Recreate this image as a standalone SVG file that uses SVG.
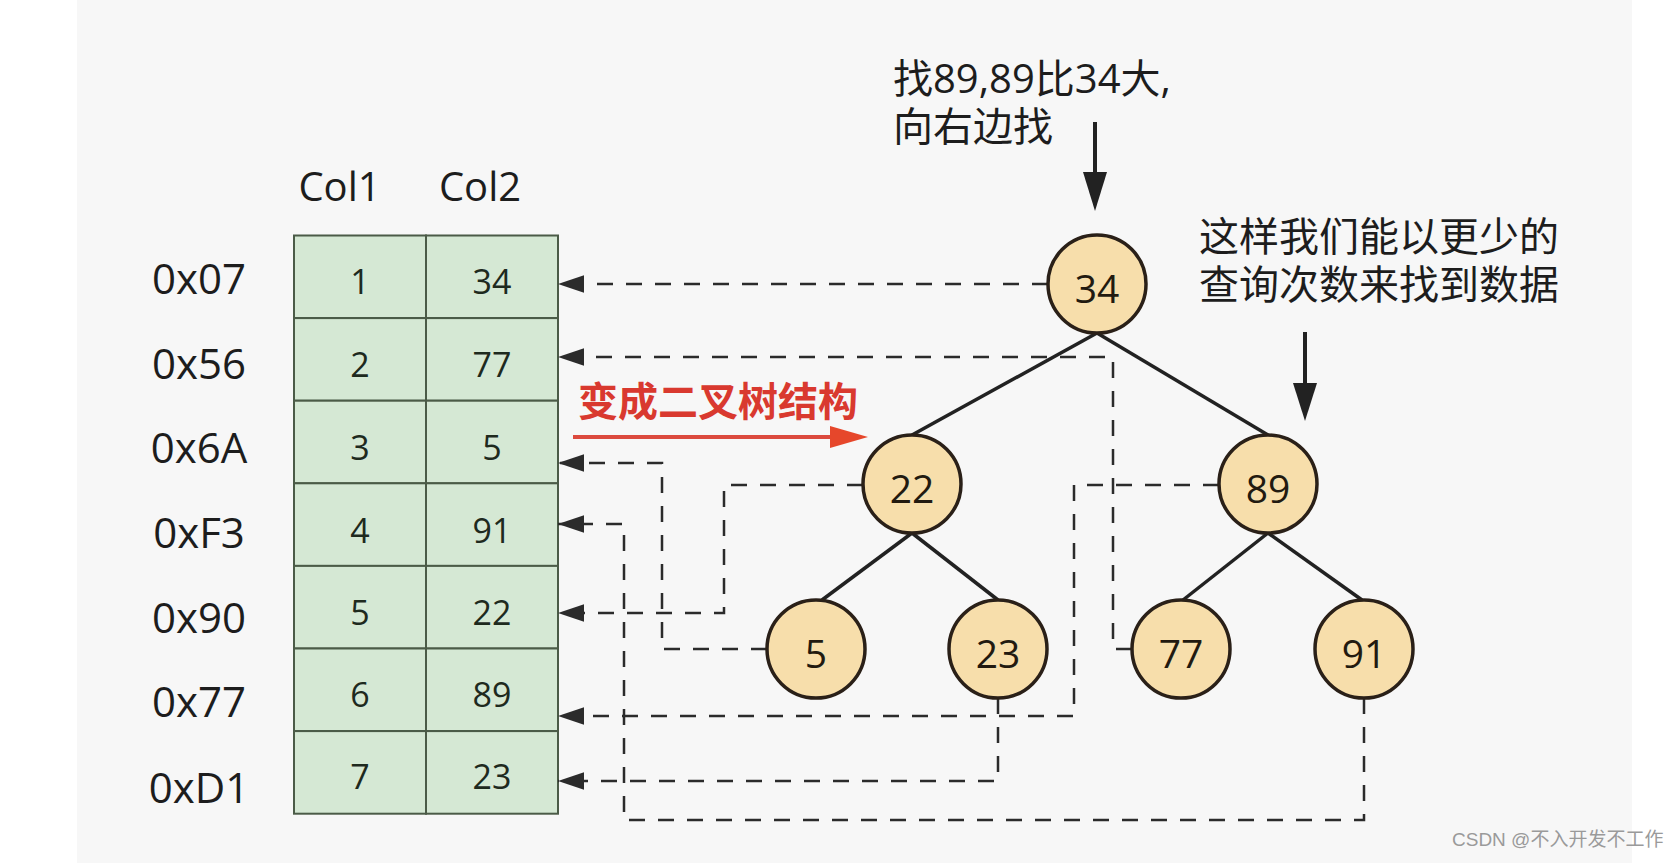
<svg xmlns="http://www.w3.org/2000/svg" width="1678" height="863" viewBox="0 0 1678 863">
<style>
.lat{font-family:"Open Sans","Noto Sans CJK SC","Liberation Sans",sans-serif;fill:#1d1d1d}
.cjk{font-family:"Open Sans","Noto Sans CJK SC",sans-serif;fill:#1d1d1d;font-size:40px}
.hdr{font-size:40px;text-anchor:middle}
.lbl{font-size:42px;text-anchor:middle}
.cell rect{fill:#d5e8d4;stroke:#4b5b47;stroke-width:2}
.cell text{font-size:34px;text-anchor:middle;fill:#1e2a1e}
.node circle{fill:#f7deab;stroke:#2a2018;stroke-width:3.5}
.node text{font-size:39px;text-anchor:middle;fill:#221a10}
.edge{stroke:#222;stroke-width:3.5;fill:none}
.dash{stroke:#2b2b2b;stroke-width:2.5;fill:none;stroke-dasharray:16 13;marker-end:url(#al)}
.solid{stroke:#222;stroke-width:4;fill:none}
</style>
<defs>
<marker id="al" markerUnits="userSpaceOnUse" markerWidth="26" markerHeight="18" viewBox="0 0 24 16" refX="24" refY="8" orient="auto">
<path d="M0,0 L24,8 L0,16 Z" fill="#2b2b2b"/>
</marker>
</defs>
<rect x="0" y="0" width="1678" height="863" fill="#ffffff"/>
<rect x="77" y="0" width="1555" height="863" fill="#f7f7f7"/>

<g id="headers">
<text class="lat hdr" x="339.5" y="201">Col1</text>
<text class="lat hdr" x="480" y="201">Col2</text>
</g>

<g id="row-labels">
<text class="lat lbl" x="199" y="294">0x07</text>
<text class="lat lbl" x="199" y="379">0x56</text>
<text class="lat lbl" x="199" y="463">0x6A</text>
<text class="lat lbl" x="199" y="548">0xF3</text>
<text class="lat lbl" x="199" y="633">0x90</text>
<text class="lat lbl" x="199" y="717">0x77</text>
<text class="lat lbl" x="199" y="803">0xD1</text>
</g>

<g id="row1" class="cell"><rect x="294" y="235.5" width="132" height="82.6"/><rect x="426" y="235.5" width="132" height="82.6"/><text class="lat" x="360" y="294">1</text><text class="lat" x="492" y="294">34</text></g>
<g id="row2" class="cell"><rect x="294" y="318.1" width="132" height="82.6"/><rect x="426" y="318.1" width="132" height="82.6"/><text class="lat" x="360" y="377">2</text><text class="lat" x="492" y="377">77</text></g>
<g id="row3" class="cell"><rect x="294" y="400.7" width="132" height="82.6"/><rect x="426" y="400.7" width="132" height="82.6"/><text class="lat" x="360" y="460">3</text><text class="lat" x="492" y="460">5</text></g>
<g id="row4" class="cell"><rect x="294" y="483.3" width="132" height="82.6"/><rect x="426" y="483.3" width="132" height="82.6"/><text class="lat" x="360" y="543">4</text><text class="lat" x="492" y="543">91</text></g>
<g id="row5" class="cell"><rect x="294" y="565.9" width="132" height="82.6"/><rect x="426" y="565.9" width="132" height="82.6"/><text class="lat" x="360" y="625">5</text><text class="lat" x="492" y="625">22</text></g>
<g id="row6" class="cell"><rect x="294" y="648.5" width="132" height="82.6"/><rect x="426" y="648.5" width="132" height="82.6"/><text class="lat" x="360" y="707">6</text><text class="lat" x="492" y="707">89</text></g>
<g id="row7" class="cell"><rect x="294" y="731.1" width="132" height="82.6"/><rect x="426" y="731.1" width="132" height="82.6"/><text class="lat" x="360" y="789">7</text><text class="lat" x="492" y="789">23</text></g>

<g id="connectors">
<line class="edge" x1="1097" y1="333" x2="912" y2="435"/>
<line class="edge" x1="1097" y1="333" x2="1268" y2="435"/>
<line class="edge" x1="912" y1="533" x2="822" y2="600"/>
<line class="edge" x1="912" y1="533" x2="998" y2="600"/>
<line class="edge" x1="1268" y1="533" x2="1183" y2="600"/>
<line class="edge" x1="1268" y1="533" x2="1362" y2="600"/>
<path class="dash" d="M1048,284 H558"/>
<path class="dash" d="M1132,649 H1113 V357 H558"/>
<path class="dash" d="M767,649 H662 V463 H558"/>
<path class="dash" d="M1364,698 V820 H624 V524 H558"/>
<path class="dash" d="M863,485 H724 V613 H558"/>
<path class="dash" d="M1219,485 H1074 V716 H558"/>
<path class="dash" d="M998,698 V781 H558"/>
<line class="solid" x1="1095" y1="122" x2="1095" y2="175"/>
<path d="M1083,172 L1107,172 L1095,211 Z" fill="#222"/>
<line class="solid" x1="1305" y1="332" x2="1305" y2="386"/>
<path d="M1293,383 L1317,383 L1305,421 Z" fill="#222"/>
<line x1="573" y1="437" x2="834" y2="437" stroke="#dc4a3e" stroke-width="4"/>
<path d="M830,426 L868,437 L830,448 Z" fill="#e6472b"/>
</g>

<g id="node34" class="node"><circle cx="1097" cy="284" r="49"/><text class="lat" x="1097" y="303">34</text></g>
<g id="node22" class="node"><circle cx="912" cy="484" r="49"/><text class="lat" x="912" y="503">22</text></g>
<g id="node89" class="node"><circle cx="1268" cy="484" r="49"/><text class="lat" x="1268" y="503">89</text></g>
<g id="node5" class="node"><circle cx="816" cy="649" r="49"/><text class="lat" x="816" y="668">5</text></g>
<g id="node23" class="node"><circle cx="998" cy="649" r="49"/><text class="lat" x="998" y="668">23</text></g>
<g id="node77" class="node"><circle cx="1181" cy="649" r="49"/><text class="lat" x="1181" y="668">77</text></g>
<g id="node91" class="node"><circle cx="1364" cy="649" r="49"/><text class="lat" x="1364" y="668">91</text></g>

<g id="note-search">
<text class="cjk"><tspan x="893" y="93">找89,89比34大,</tspan><tspan x="893" y="141">向右边找</tspan></text>
</g>
<g id="note-fewer">
<text class="cjk"><tspan x="1199" y="251">这样我们能以更少的</tspan><tspan x="1199" y="299">查询次数来找到数据</tspan></text>
</g>
<g id="label-convert">
<text x="578" y="416" font-family="Noto Sans CJK SC, sans-serif" font-size="40" font-weight="700" fill="#d9392f">变成二叉树结构</text>
</g>
<g id="watermark">
<text x="1452" y="846" font-family="Liberation Sans, Noto Sans CJK SC, sans-serif" font-size="19" fill="#9a9a9a">CSDN @不入开发不工作</text>
</g>
</svg>
